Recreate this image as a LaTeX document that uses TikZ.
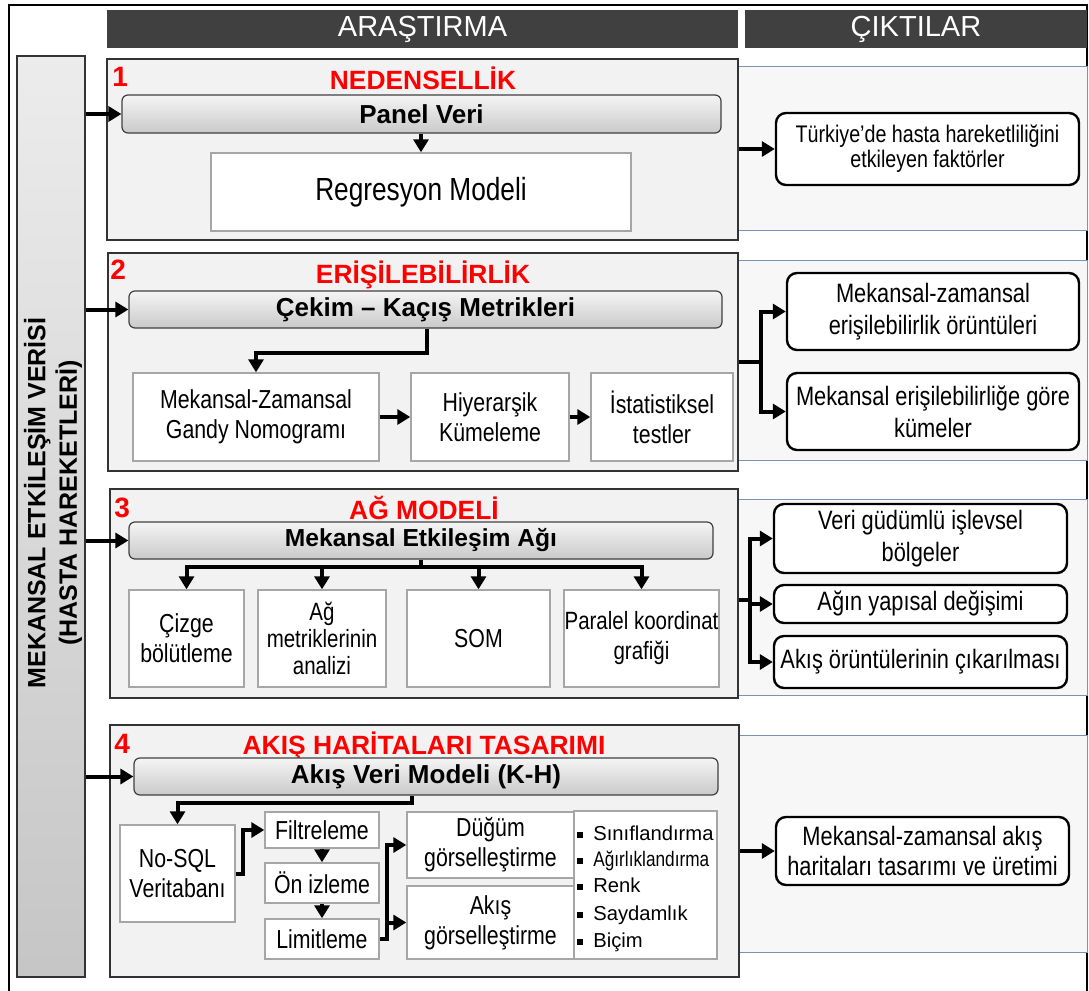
\documentclass[tikz,border=0pt]{standalone}
\usepackage{fontspec}
\setmainfont{Liberation Sans}
\newfontfamily\narrowfont{Liberation Sans}[FakeStretch=0.82]
\usetikzlibrary{arrows.meta}

\definecolor{hdrgray}{HTML}{404040}
\definecolor{secfill}{HTML}{F2F2F2}
\definecolor{panelfill}{HTML}{F7F7F7}
\definecolor{paneledge}{HTML}{7A93B4}
\definecolor{boxedge}{HTML}{A6A6A6}
\definecolor{titlered}{HTML}{FF0000}

\newcommand{\sqbul}{\rule[1pt]{2.8pt}{2.8pt}\hspace{5.2pt}}

\tikzset{
  area/.style args={#1,#2,#3,#4}{minimum width={(#3-#1)*0.5pt}, minimum height={(#4-#2)*0.5pt},
    at={({(#1+#3)/2},{(#2+#4)/2})}},
  hdr/.style={fill=hdrgray, text=white, inner sep=0pt, font=\fontsize{14.5}{17}\selectfont},
  sidebar/.style={draw=black!80, line width=0.6pt, top color=gray!15, bottom color=gray!45, inner sep=0pt},
  secbox/.style={draw=black!80, fill=secfill, line width=0.7pt, inner sep=0pt},
  panel/.style={draw=paneledge, fill=panelfill, line width=0.4pt, inner sep=0pt},
  bar/.style={draw=black!75, line width=0.6pt, rounded corners=3pt, top color=gray!8, bottom color=gray!42,
    inner sep=0pt, font=\bfseries\fontsize{13}{15}\selectfont},
  inbox/.style={draw=boxedge, fill=white, line width=0.7pt, inner sep=0pt, align=center,
    font=\narrowfont\fontsize{13}{15}\selectfont},
  outbox/.style={draw=black, fill=white, line width=1.2pt, rounded corners=5pt, inner sep=0pt, align=center,
    font=\narrowfont\fontsize{13.3}{16}\selectfont},
  sectitle/.style={text=titlered, anchor=base, inner sep=0pt, font=\bfseries\fontsize{13.2}{15}\selectfont},
  secnum/.style={text=titlered, anchor=base west, inner sep=0pt, font=\bfseries\fontsize{14}{16}\selectfont},
  bulitem/.style={anchor=base west, inner sep=0pt, font=\fontsize{10.1}{12}\selectfont},
  flow/.style={line width=2pt, -{Triangle[length=6.5pt,width=7.5pt]}},
  link/.style={line width=2pt}
}

\begin{document}
\begin{tikzpicture}[x=0.5pt, y=-0.5pt]
\useasboundingbox (0,0) rectangle (1089,991);

% outer frame
\draw[line width=0.8pt] (9,5) rectangle (1087,1010);

% column headers
\node[hdr, area={107,10,738,48}] (hdrres) {ARAŞTIRMA};
\node[hdr, area={745,10,1087,48}] (hdrout) {ÇIKTILAR};

% data source bar
\node[sidebar, area={17,56,85,977}] (side) {};
\node[rotate=90, align=center, font=\bfseries\fontsize{12.5}{15.75}\selectfont] (sidetxt) at (53,503)
  {MEKANSAL ETKİLEŞİM VERİSİ\\(HASTA HAREKETLERİ)};

% output panels
\node[panel, area={738,66,1087,230}] (pan1) {};
\node[panel, area={738,260,1087,460}] (pan2) {};
\node[panel, area={738,499,1087,695}] (pan3) {};
\node[panel, area={738,735,1087,952}] (pan4) {};

% research sections
\node[secbox, area={107,59,738,240}] (sec1) {};
\node[secbox, area={108,253,738,471}] (sec2) {};
\node[secbox, area={110,489,738,698}] (sec3) {};
\node[secbox, area={110,725,739,977}] (sec4) {};

\node[secnum] (n1) at (112,86) {1};
\node[secnum] (n2) at (110,279) {2};
\node[secnum] (n3) at (114,517) {3};
\node[secnum] (n4) at (114,753) {4};
\node[sectitle] (t1) at (423,89) {NEDENSELLİK};
\node[sectitle] (t2) at (423,283) {ERİŞİLEBİLİRLİK};
\node[sectitle] (t3) at (424,519) {AĞ MODELİ};
\node[sectitle] (t4) at (424,754) {AKIŞ HARİTALARI TASARIMI};

\node[bar, area={122,95,721,133}] (bar1) {Panel Veri};
\node[bar, area={129,291,722,328}] (bar2) {Çekim – Kaçış Metrikleri};
\node[bar, area={129,522,713,559}, font=\bfseries\fontsize{12.3}{15}\selectfont] (bar3) {Mekansal Etkileşim Ağı};
\node[bar, area={134,758,718,795}] (bar4) {Akış Veri Modeli (K-H)};

% section 1
\node[inbox, area={211,153,631,231}, font=\narrowfont\fontsize{16}{18}\selectfont] (regr) {Regresyon Modeli};

% section 2
\node[inbox, area={133,373,379,461}] (gandy) {Mekansal-Zamansal\\Gandy Nomogramı};
\node[inbox, area={411,373,569,461}] (hiyer) {Hiyerarşik\\Kümeleme};
\node[inbox, area={591,373,733,461}] (istat) {İstatistiksel\\testler};

% section 3
\node[inbox, area={129,590,244,687}] (cizge) {Çizge\\bölütleme};
\node[inbox, area={258,590,386,687}, font=\narrowfont\fontsize{12.5}{13.5}\selectfont] (agmet) {Ağ\\metriklerinin\\analizi};
\node[inbox, area={407,590,550,687}] (som) {SOM};
\node[inbox, area={564,590,719,687}, font=\narrowfont\fontsize{12.5}{15}\selectfont] (paralel) {Paralel koordinat\\grafiği};

% section 4
\node[inbox, area={120,825,235,922}] (nosql) {No-SQL\\Veritabanı};
\node[inbox, area={265,812,379,848}] (filt) {Filtreleme};
\node[inbox, area={265,863,379,903}] (oniz) {Ön izleme};
\node[inbox, area={265,919,379,959}] (limit) {Limitleme};
\node[inbox, area={407,812,574,878}] (dug) {Düğüm\\görselleştirme};
\node[inbox, area={407,886,574,959}] (akisg) {Akış\\görselleştirme};
\node[inbox, area={574,811,717,959}] (bulbox) {};
\node[bulitem] (b1) at (577,840) {\sqbul Sınıflandırma};
\node[bulitem, font=\narrowfont\fontsize{10.5}{12}\selectfont] (b2) at (577,866) {\sqbul Ağırlıklandırma};
\node[bulitem] (b3) at (577,892) {\sqbul Renk};
\node[bulitem] (b4) at (577,920) {\sqbul Saydamlık};
\node[bulitem] (b5) at (577,947) {\sqbul Biçim};

% outputs
\node[outbox, area={776,113,1079,185}, font=\narrowfont\fontsize{12}{12.5}\selectfont] (out1)
  {Türkiye’de hasta hareketliliğini\\etkileyen faktörler};
\node[outbox, area={787,273,1079,350}] (out2a) {Mekansal-zamansal\\erişilebilirlik örüntüleri};
\node[outbox, area={787,373,1079,450}] (out2b) {Mekansal erişilebilirliğe göre\\kümeler};
\node[outbox, area={774,504,1067,573}] (out3a) {Veri güdümlü işlevsel\\bölgeler};
\node[outbox, area={774,585,1067,623}] (out3b) {Ağın yapısal değişimi};
\node[outbox, area={774,636,1067,688}] (out3c) {Akış örüntülerinin çıkarılması};
\node[outbox, area={776,817,1069,885}, font=\narrowfont\fontsize{13.3}{15}\selectfont] (out4)
  {Mekansal-zamansal akış\\haritaları tasarımı ve üretimi};

% data into each section
\draw[flow] (side.east |- bar1.west) -- (bar1.west);
\draw[flow] (side.east |- bar2.west) -- (bar2.west);
\draw[flow] (side.east |- bar3.west) -- (bar3.west);
\draw[flow] (side.east |- bar4.west) -- (bar4.west);

% section 1 flow
\draw[flow] (bar1.south -| regr.north) -- (regr.north);
\draw[flow] (sec1.east |- out1.west) -- (out1.west);

% section 2 flow
\coordinate (k2) at (427,353);
\draw[flow] (k2 |- bar2.south) -- (k2) -| (gandy.north);
\draw[flow] (gandy.east) -- (hiyer.west);
\draw[flow] (hiyer.east) -- (istat.west);
\coordinate (j2) at (761,362);
\draw[link] (sec2.east |- j2) -- (j2);
\draw[flow] (j2) |- (out2a.west);
\draw[flow] (j2) |- (out2b.west);

% section 3 flow
\coordinate (k3) at (421,567);
\draw[link] (k3 |- bar3.south) -- (k3);
\draw[flow] (k3) -| (cizge.north);
\draw[flow] (k3) -| (agmet.north);
\draw[flow] (k3) -| (som.north);
\draw[flow] (k3) -| (paralel.north);
\coordinate (j3) at (750,600);
\draw[link] (sec3.east |- j3) -- (j3);
\draw[flow] (j3) |- (out3a.west);
\draw[flow] (j3) |- (out3b.west);
\draw[flow] (j3) |- (out3c.west);

% section 4 flow
\coordinate (k4) at (412,803);
\draw[flow] (k4 |- bar4.south) -- (k4) -| (nosql.north);
\draw[flow] (nosql.east) -- ++(7,0) |- (filt.west);
\draw[flow] (filt.south) -- (oniz.north);
\draw[flow] (oniz.south) -- (limit.north);
\draw[flow] (limit.east) -- ++(7,0) |- (dug.west);
\draw[flow] (limit.east) -- ++(7,0) |- (akisg.west);
\draw[flow] (sec4.east |- out4.west) -- (out4.west);

\end{tikzpicture}
\end{document}
